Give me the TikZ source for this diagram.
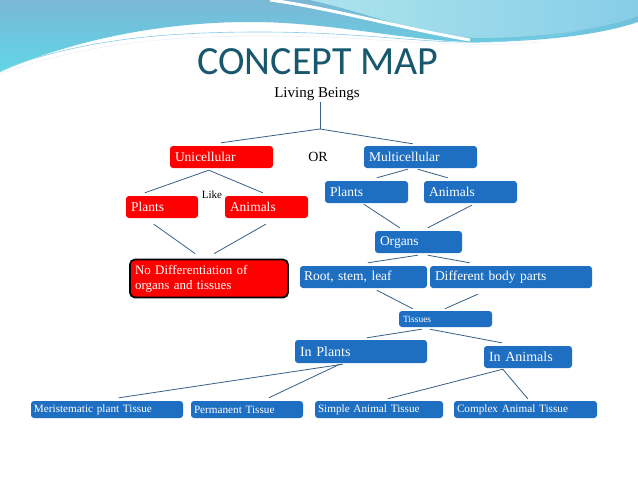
\documentclass[tikz,border=0pt]{standalone}
\usepackage{fontspec}
\setmainfont{Liberation Serif}
\newfontfamily\titlefont{Carlito}
\usetikzlibrary{calc}
\definecolor{myblue}{RGB}{30,110,194}
\definecolor{myred}{RGB}{255,0,0}
\definecolor{lncol}{RGB}{55,95,135}
\definecolor{titlecol}{RGB}{24,88,110}
\definecolor{wblue}{RGB}{122,184,214}
\definecolor{wcyan}{RGB}{96,214,230}
\definecolor{wlight}{RGB}{172,228,236}
\definecolor{wlight2}{RGB}{135,205,232}
\tikzset{
  bx/.style={rounded corners=3pt, text=white, inner xsep=5pt, inner ysep=0pt, align=left, font=\fontsize{13.5}{15}\selectfont},
  bluebx/.style={bx, fill=myblue},
  redbx/.style={bx, fill=myred},
  smallbx/.style={bluebx, inner xsep=3pt, font=\fontsize{11.2}{12}\selectfont},
  ln/.style={draw=lncol, line width=0.8pt},
}
\begin{document}
\begin{tikzpicture}[x=1pt,y=-1pt]
\useasboundingbox (0,0) rectangle (638,479);
\fill[white] (0,0) rectangle (638,479);
% decorative wave
\shade[top color=wblue, bottom color=wcyan]
  (0,0) -- (638,0) -- (638,22) .. controls (600,35) and (540,42) .. (470,42)
  .. controls (400,40) and (330,22) .. (250,22) .. controls (150,22) and (60,45) .. (0,72) -- cycle;
\shade[left color=wlight, right color=wlight2]
  (310,0) -- (638,0) -- (638,16) .. controls (600,30) and (540,38) .. (478,38)
  .. controls (420,36) and (380,16) .. (310,0) -- cycle;
\draw[white, line width=3pt] (270,0) .. controls (330,8) and (400,28) .. (470,40);
\draw[wlight2, line width=0.6pt] (0,70) .. controls (80,40) and (160,32) .. (260,32) .. controls (380,32) and (440,48) .. (520,40) .. controls (580,34) and (620,20) .. (638,10);
\draw[white!80!wblue, line width=0.5pt] (0,74) .. controls (90,42) and (170,36) .. (270,36) .. controls (380,36) and (450,50) .. (540,42);

% title
\node[font=\titlefont\fontsize{40}{44}\selectfont, text=titlecol] (title) at (318,62) {CONCEPT MAP};
\node[font=\fontsize{15}{17}\selectfont, inner sep=1pt] (living) at (317,94) {Living Beings};
\coordinate (split) at (320,129);

% nodes
\node[redbx, text width=93pt, minimum height=22pt] (uni) at (221.5,157) {Unicellular};
\node[font=\fontsize{14}{16}\selectfont] (or) at (318,157) {OR};
\node[bluebx, text width=103pt, minimum height=22pt] (mul) at (420.5,157) {Multicellular};
\node[redbx, text width=62pt, minimum height=22pt] (upl) at (162,207) {Plants};
\node[redbx, text width=73pt, minimum height=22pt] (uan) at (266.5,207) {Animals};
\node[font=\fontsize{11}{12}\selectfont] (like) at (212,195) {Like};
\node[redbx, draw=black, line width=1.8pt, rounded corners=5pt, text width=148pt, minimum height=38pt, font=\fontsize{13}{15}\selectfont] (nodiff) at (209,278.5) {No Differentiation of\\organs and tissues};
\node[bluebx, text width=73pt, minimum height=22pt] (mpl) at (366.5,192) {Plants};
\node[bluebx, text width=83pt, minimum height=22pt] (man) at (470.5,192) {Animals};
\node[bluebx, text width=77pt, minimum height=22pt] (org) at (418.5,242) {Organs};
\node[bluebx, text width=119pt, minimum height=22pt, inner xsep=4pt] (root) at (363.5,277) {Root, stem, leaf};
\node[bluebx, text width=152pt, minimum height=22pt] (diff) at (511,277) {Different body parts};
\node[bluebx, inner xsep=4pt, text width=85pt, minimum height=16pt, font=\fontsize{9.5}{11}\selectfont] (tis) at (445.5,319) {Tissues};
\node[bluebx, text width=122pt, minimum height=23pt, font=\fontsize{14}{16}\selectfont] (inpl) at (361,351.5) {In Plants};
\node[bluebx, text width=78pt, minimum height=22pt, font=\fontsize{14}{16}\selectfont] (inan) at (528,357) {In Animals};
\node[smallbx, text width=146pt, minimum height=17pt] (mer) at (107,409.5) {Meristematic plant Tissue};
\node[smallbx, text width=106pt, minimum height=17pt] (perm) at (247,409.5) {Permanent Tissue};
\node[smallbx, text width=122pt, minimum height=17pt] (simp) at (379,409.5) {Simple Animal Tissue};
\node[smallbx, text width=137pt, minimum height=17pt] (comp) at (525.5,409.5) {Complex Animal Tissue};

% connectors
\draw[ln] (split |- living.south) -- (split);
\draw[ln] (split) -- ($(uni.north west)+(51,-3)$);
\draw[ln] (split) -- ($(mul.north west)+(49,-2)$);
\draw[ln] ($(uni.south west)+(39,2)$) -- ($(upl.north west)+(19,-3)$);
\draw[ln] ($(uni.south west)+(39,2)$) -- ($(uan.north west)+(38,-3)$);
\draw[ln] ($(upl.south west)+(28,6)$) -- ($(nodiff.north west)+(66,-5)$);
\draw[ln] ($(uan.south west)+(41,6)$) -- ($(nodiff.north west)+(85,-5)$);
\draw[ln] ($(mul.south west)+(44,1)$) -- ($(mpl.north west)+(52,-3)$);
\draw[ln] ($(mul.south west)+(54,1)$) -- ($(man.north west)+(24,-3)$);
\draw[ln] ($(mpl.south west)+(39,1)$) -- ($(org.north west)+(25,-3)$);
\draw[ln] ($(man.south west)+(48,2)$) -- ($(org.north west)+(53,-3)$);
\draw[ln] ($(org.south west)+(43,2)$) -- ($(root.north west)+(68,-3)$);
\draw[ln] ($(org.south west)+(53,2)$) -- ($(diff.north west)+(40,-3)$);
\draw[ln] ($(root.south west)+(77,2)$) -- ($(tis.north west)+(14,-2)$);
\draw[ln] ($(diff.south west)+(48,6)$) -- ($(tis.north west)+(46,-2)$);
\draw[ln] ($(tis.south west)+(23,2)$) -- ($(inpl.north west)+(72,-2)$);
\draw[ln] ($(tis.south west)+(31,2)$) -- ($(inan.north west)+(18,-3)$);
\draw[ln] ($(inpl.south west)+(48,1)$) -- ($(mer.north west)+(88,-3)$);
\draw[ln] ($(inpl.south west)+(45,1)$) -- ($(perm.north west)+(78,-3)$);
\draw[ln] ($(inan.south west)+(19,1)$) -- ($(simp.north west)+(73,-2)$);
\draw[ln] ($(inan.south west)+(19,1)$) -- ($(comp.north west)+(74,-2)$);
\end{tikzpicture}
\end{document}
